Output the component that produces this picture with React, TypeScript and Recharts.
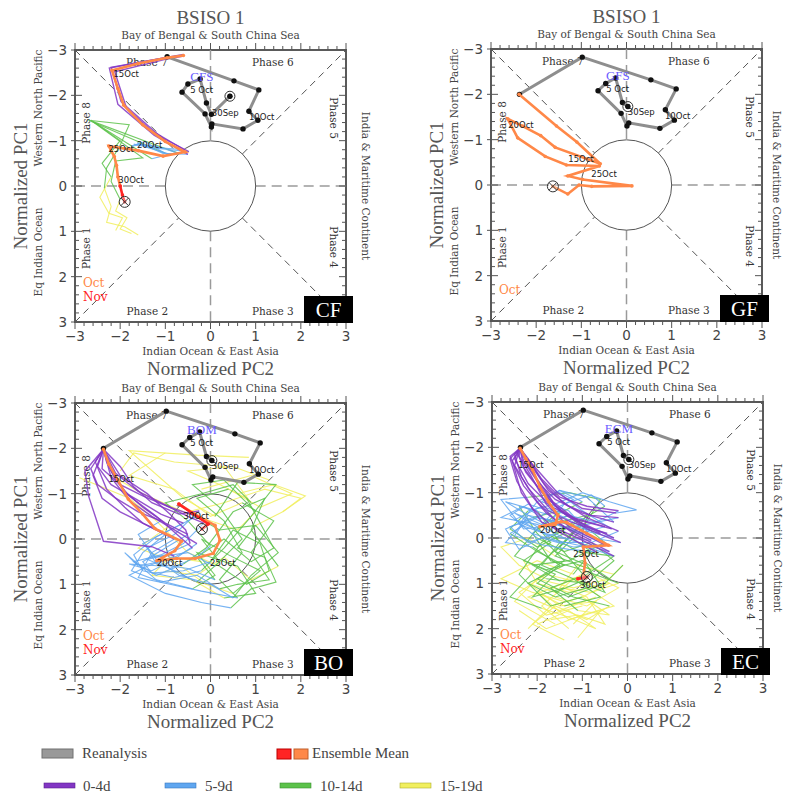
import React from 'react'
import {
  ScatterChart,
  Scatter,
  XAxis,
  YAxis,
  ReferenceLine,
  ReferenceDot,
  ReferenceArea,
} from 'recharts'

// ---- data (PC2 = x, PC1 = y), flat [x0, y0, x1, y1, ...] ----

const AXIS_TICKS = [
  -3, -2.8, -2.6, -2.4, -2.2, -2, -1.8, -1.6, -1.4, -1.2, -1, -0.8, -0.6, -0.4, -0.2, 0,
  0.2, 0.4, 0.6, 0.8, 1, 1.2, 1.4, 1.6, 1.8, 2, 2.2, 2.4, 2.6, 2.8, 3,
]

// reanalysis, 30 Sep onward
const RE_TRACK = [
  0.03, -1.73, -0.09, -1.82, -0.24, -2.36, -0.46, -2.24, -0.63, -2.08, -0.12, -1.58, 0.01, -1.3,
  0.05, -1.37, 0.74, -1.25, 1.06, -1.43, 0.86, -1.66, 1.1, -2.12, 0.54, -2.32, -0.98, -2.82,
  -2.37, -2.0,
]
const RE_TRACK_CF = [
  0.43, -1.98, 0.02, -1.58, -0.09, -1.83, -0.23, -2.36, -0.5, -2.25, -0.63, -2.07, -0.12, -1.59,
  0.02, -1.3, 0.03, -1.37, 0.72, -1.26, 1.05, -1.45, 0.85, -1.65, 1.07, -2.12, 0.52, -2.32,
  -0.96, -2.85,
]

// ensemble means
const CF_MEAN_OCT = [
  -0.6, -2.88, -0.96, -2.83, -1.6, -2.7, -2.18, -2.55, -2.05, -2.15, -1.92, -1.78, -1.5, -1.35,
  -1.0, -0.98, -0.56, -0.75, -1.05, -0.66, -1.6, -0.78, -2.25, -0.88, -2.13, -0.65, -2.08, -0.45,
  -2.05, -0.2, -2.0, 0.0,
]
const CF_MEAN_NOV = [-2.0, 0.0, -1.95, 0.2, -1.9, 0.35]
const GF_MEAN_OCT = [
  -2.38, -2.0, -1.55, -1.3, -1.1, -0.95, -0.58, -0.47, -1.58, -0.83, -1.9, -1.09, -2.3, -1.3,
  -2.63, -1.46, -2.41, -1.04, -1.8, -0.63, -1.33, -0.44, -0.6, -0.42, -1.3, -0.2, -0.97, -0.12,
  0.12, 0.02, -0.77, 0.03, -1.05, 0.0, -1.3, 0.2, -1.63, 0.03,
]
const GF_MEAN_NOV: number[] = []
const BO_MEAN_OCT = [
  -2.37, -1.98, -2.25, -1.65, -2.05, -1.3, -1.82, -0.88, -1.5, -0.55, -1.23, -0.23, -0.64, 0.05,
  -0.79, 0.26, -1.19, 0.48, -0.75, 0.43, -0.34, 0.43, 0.06, 0.32, 0.21, 0.03, 0.1, -0.3,
  -0.35, -0.55, -0.7, -0.77,
]
const BO_MEAN_NOV = [-0.7, -0.77, -0.42, -0.58, -0.05, -0.33, -0.19, -0.22]
const EC_MEAN_OCT = [
  -2.38, -1.98, -2.25, -1.75, -2.1, -1.5, -1.94, -1.13, -1.75, -0.8, -1.54, -0.5, -1.6, -0.3,
  -1.94, -0.25, -1.47, -0.36, -1.35, -0.34, -0.9, -0.1, -0.42, 0.16, -0.98, 0.2, -0.94, 0.55,
  -0.98, 0.86, -1.1, 0.9,
]
const EC_MEAN_NOV = [-1.1, 0.9, -0.95, 0.88, -0.9, 0.86]

// ensemble members: 20 daily points, lead 0-4d / 5-9d / 10-14d / 15-19d
const CF_MEMBERS = [
  [-0.6, -2.9, -0.95, -2.84, -2.24, -2.6, -2.05, -1.8, -1.25, -1.12, -0.5, -0.7, -1.05, -0.72, -1.5, -0.92, -1.75, -0.88, -1.45, -0.98, -1.0, -0.72, -2.7, -1.45, -1.8, -1.35, -2.0, -0.9, -2.3, -0.4, -2.35, 0.05, -2.2, 0.45, -2.3, 0.8, -1.9, 0.9, -1.6, 1.08],
  [-0.62, -2.86, -0.98, -2.8, -2.12, -2.52, -1.86, -1.72, -1.3, -1.22, -0.58, -0.8, -1.2, -0.85, -1.62, -0.95, -1.4, -0.85, -0.9, -0.7, -1.3, -0.6, -2.65, -1.45, -1.5, -0.62, -2.1, -0.55, -2.2, -0.1, -2.0, 0.3, -2.1, 0.55, -1.85, 0.7, -2.0, 0.95, -1.75, 1.05],
  [-0.58, -2.88, -1.0, -2.83, -2.2, -2.62, -1.98, -1.86, -1.1, -1.08, -0.48, -0.76, -0.9, -0.8, -1.35, -0.85, -1.7, -0.92, -1.2, -0.88, -0.7, -0.72, -1.2, -0.9, -2.6, -1.42, -2.0, -1.0, -2.4, -0.5, -2.2, -0.2, -2.45, 0.25, -2.25, 0.6, -1.95, 0.7, -2.1, 0.98],
]
const GF_MEMBERS: number[][] = []
const BO_MEMBERS = [
  [-2.37, -1.98, -2.2, -1.5, -1.9, -1.05, -1.5, -0.7, -1.0, -0.35, -0.5, -0.1, -1.0, 0.2, -1.5, 0.5, -1.3, 0.75, -0.6, 0.7, 0.0, 0.5, 0.5, -0.2, 1.1, 0.1, 1.3, 0.7, 0.8, 1.0, 0.2, 0.6, -0.5, 0.3, -1.2, -0.4, -1.8, -0.9, -2.9, -1.35],
  [-2.37, -1.98, -2.5, -1.6, -2.2, -1.2, -1.6, -0.85, -1.1, -0.55, -0.6, -0.35, -1.2, -0.05, -1.7, 0.35, -1.5, 0.7, -0.8, 0.85, -0.2, 0.7, 0.3, 0.2, 0.9, -0.5, 1.45, -1.2, 0.6, -1.25, 0.1, -0.5, -0.6, -0.9, -1.8, -1.95, -0.3, -1.85, 0.85, -1.8],
  [-2.37, -1.98, -2.78, -1.5, -2.7, -0.95, -2.37, 0.05, -1.3, 0.17, -0.8, 0.38, -1.4, 0.6, -1.8, 0.8, -1.0, 1.2, -0.2, 1.4, 0.45, 1.52, 0.9, 1.1, 1.45, 0.95, 1.2, 0.4, 0.6, 0.2, 1.0, -0.3, 1.6, -0.6, 2.1, -0.95, 1.4, -1.2, 0.6, -1.0],
  [-2.37, -1.98, -2.0, -1.6, -1.7, -1.15, -1.3, -0.8, -0.7, -0.55, -0.25, -0.62, -0.8, -0.1, -1.4, 0.2, -1.2, 0.55, -0.5, 0.65, 0.1, 0.9, -0.3, 0.4, 0.3, 0.0, 0.9, 0.5, 1.4, 0.2, 0.8, -0.9, 0.2, -1.2, -0.5, -1.5, 0.5, -1.6, 1.3, -1.3],
  [-2.37, -1.98, -2.3, -1.7, -2.1, -1.3, -1.8, -0.95, -1.2, -0.5, -0.4, 0.2, -0.9, 0.45, -1.6, 0.6, -1.9, 0.3, -1.2, 0.9, -0.4, 1.1, 0.1, 0.8, -0.3, 0.3, 0.6, 0.6, 1.0, 1.2, 0.3, 1.3, -0.4, 0.9, -1.3, 0.8, -0.9, 0.4, -0.2, 0.5],
  [-2.37, -1.98, -2.6, -1.4, -2.4, -0.9, -2.0, -0.6, -1.4, -0.3, -0.8, 0.0, -1.3, 0.3, -1.6, 0.85, -0.9, 1.0, -0.2, 1.15, 0.6, 1.3, 0.2, 0.9, 0.7, 0.3, 0.3, -0.4, -0.3, -0.9, 0.4, -1.1, 1.1, -0.7, 1.8, -1.0, 0.9, -1.4, -0.2, -1.1],
  [-2.37, -1.98, -2.1, -1.45, -1.6, -1.05, -1.0, -0.75, -0.5, -0.5, -0.15, -0.35, -0.6, 0.1, -1.1, 0.35, -1.7, 0.5, -1.2, 0.8, -0.6, 0.55, -0.1, 0.2, 0.5, -0.6, 1.2, -0.9, 0.9, -0.2, 1.5, 0.6, 0.9, 0.9, 0.3, 0.4, -0.3, 0.8, -1.0, 0.7],
  [-2.37, -1.98, -2.4, -1.55, -2.0, -1.2, -1.5, -0.95, -0.9, -0.7, -0.3, -0.5, -0.9, -0.2, -1.5, 0.1, -1.2, 0.4, -0.5, 0.3, 0.1, 0.6, 0.7, 0.0, 0.2, -0.7, -0.4, -1.2, 0.3, -1.3, 1.0, -0.6, 0.6, -0.2, -0.6, -0.6, -1.5, -1.0, -2.2, -1.4],
  [-2.37, -1.98, -2.55, -1.7, -2.3, -1.1, -1.9, -0.7, -1.5, -0.35, -1.0, -0.1, -1.5, 0.3, -1.75, 0.7, -1.1, 0.95, -0.3, 0.8, 0.2, 1.1, 0.6, 1.0, 1.3, 0.9, 0.9, 0.3, 1.4, -0.4, 0.7, -0.8, 0.0, -0.5, -0.8, -1.1, -1.8, -1.4, -1.0, -1.9],
  [-2.37, -1.98, -2.2, -1.35, -1.8, -0.85, -1.3, -0.5, -0.8, -0.2, -0.3, 0.1, -0.8, 0.45, -1.3, 0.7, -1.8, 0.55, -1.0, 0.6, -0.3, 0.95, 0.2, 0.5, -0.2, 0.0, 0.4, 0.35, 1.1, 0.7, 0.5, 1.2, -0.1, 1.0, -0.8, 0.5, -1.6, 0.2, -0.9, -0.3],
  [-2.37, -1.98, -2.65, -1.55, -2.5, -1.2, -2.1, -0.9, -1.6, -0.6, -1.1, -0.4, -1.6, -0.1, -1.2, 0.45, -0.7, 0.8, 0.0, 1.0, 0.5, 1.3, 0.9, 0.8, 1.5, 0.3, 1.0, -0.3, 0.2, -0.2, -0.5, -0.6, 0.3, -0.8, 1.2, -1.1, 2.0, -0.9, 1.6, -0.6],
  [-2.37, -1.98, -2.0, -1.4, -1.4, -1.0, -0.9, -0.55, -0.55, -0.2, -0.45, 0.1, -1.0, 0.35, -1.4, 0.45, -0.9, 0.65, -0.3, 0.4, 0.0, 0.15, -0.5, -0.4, -1.0, -0.8, -0.2, -1.0, 0.5, -1.2, 0.9, -0.8, 0.3, -1.6, -0.8, -1.7, -1.7, -1.9, -2.0, -1.5],
]
const EC_MEMBERS = [
  [-2.38, -1.98, -2.1, -1.55, -1.75, -1.05, -1.3, -0.7, -0.8, -0.5, -0.2, -0.45, -0.9, -0.3, -1.6, -0.2, -2.2, -0.5, -2.7, -0.8, -2.0, -0.6, -1.5, 0.1, -1.9, 0.6, -1.2, 0.9, -0.6, 1.3, -1.4, 1.5, -2.0, 1.2, -1.3, 1.8, -0.6, 1.6, -1.1, 2.2],
  [-2.38, -1.98, -2.5, -1.75, -2.2, -1.2, -1.7, -0.7, -1.1, -0.4, -0.35, -0.2, -1.0, -0.6, -1.6, -1.05, -1.2, -0.85, -2.1, -0.4, -2.6, -0.1, -2.0, 0.3, -1.4, 0.6, -2.2, 1.0, -1.6, 1.3, -0.9, 1.1, -0.3, 1.5, -1.0, 1.7, -1.8, 2.0, -2.4, 1.6],
  [-2.38, -1.98, -2.2, -1.6, -1.9, -1.1, -1.5, -0.6, -0.9, -0.2, -0.15, 0.1, -0.8, 0.0, -1.5, -0.3, -2.3, -0.2, -2.8, -0.85, -2.2, -0.9, -1.3, -1.0, -0.6, -0.85, -1.0, -0.2, -1.6, 0.4, -0.8, 0.7, -1.4, 1.0, -2.2, 1.3, -1.5, 1.6, -0.7, 1.3],
  [-2.38, -1.98, -2.6, -1.8, -2.3, -1.15, -1.8, -0.55, -1.2, -0.1, -0.4, 0.3, -1.1, 0.1, -1.8, -0.1, -2.5, -0.4, -1.9, -0.7, -1.3, -0.5, -2.0, -0.2, -2.5, 0.4, -1.8, 0.7, -1.0, 0.5, -0.4, 0.9, -1.2, 1.1, -2.0, 0.9, -2.5, 1.4, -1.6, 1.9],
  [-2.38, -1.98, -2.3, -1.7, -2.0, -1.25, -1.6, -0.85, -1.0, -0.55, -0.3, -0.35, -0.9, -0.9, -1.5, -1.05, -2.0, -0.8, -2.4, -0.3, -1.7, -0.05, -1.1, 0.3, -0.3, 0.4, -0.9, 0.8, -1.7, 1.1, -1.1, 1.6, -0.4, 1.7, -1.0, 1.3, -1.7, 1.5, -2.2, 2.0],
  [-2.38, -1.98, -2.45, -1.9, -2.25, -1.45, -1.85, -0.95, -1.35, -0.5, -0.6, -0.1, -1.3, -0.3, -2.0, -0.45, -2.6, -0.25, -2.2, 0.1, -1.6, -0.1, -1.1, -0.4, -0.5, 0.1, -1.3, 0.5, -2.1, 0.6, -1.5, 0.95, -0.8, 0.8, -0.2, 1.1, -0.9, 1.5, -1.6, 1.3],
  [-2.38, -1.98, -2.3, -1.85, -1.95, -1.45, -1.55, -1.0, -1.0, -0.65, -0.25, -0.55, 0.2, -0.62, -0.4, -0.8, -1.0, -1.0, -1.6, -0.75, -2.2, -0.6, -2.6, -0.2, -2.0, 0.2, -1.4, -0.1, -0.8, 0.3, -1.2, 0.8, -2.0, 0.5, -2.8, 0.9, -2.1, 1.2, -1.4, 1.4],
  [-2.38, -1.98, -2.55, -1.7, -2.35, -1.0, -1.9, -0.35, -1.1, 0.0, -0.3, 0.4, -0.9, 0.2, -1.6, 0.05, -2.3, -0.35, -2.7, 0.1, -2.1, 0.2, -1.5, 0.6, -2.0, 1.0, -1.3, 1.3, -0.5, 1.0, -0.1, 0.6, -0.6, 1.1, -1.2, 0.9, -1.9, 1.5, -1.3, 2.0],
  [-2.38, -1.98, -2.2, -1.75, -1.9, -1.3, -1.5, -0.9, -0.9, -0.7, -0.2, -0.6, -0.7, -0.35, -1.3, -0.5, -1.9, -0.3, -2.5, -0.55, -2.0, -0.25, -1.7, 0.1, -2.3, 0.5, -1.6, 0.8, -2.1, 1.3, -1.4, 1.1, -0.9, 1.3, -0.5, 1.9, -1.1, 1.7, -1.7, 1.8],
  [-2.38, -1.98, -2.5, -1.85, -2.35, -1.35, -2.0, -0.8, -1.5, -0.3, -0.8, 0.05, -1.4, 0.0, -2.0, -0.3, -2.8, -0.45, -2.3, -0.7, -1.8, -0.4, -1.2, -0.15, -1.6, 0.3, -0.9, 0.6, -0.5, 1.2, -1.0, 1.0, -1.8, 0.8, -2.4, 1.2, -1.8, 1.7, -1.0, 1.5],
  [-2.38, -1.98, -2.25, -1.7, -2.0, -1.3, -1.65, -0.8, -1.2, -0.45, -0.5, -0.25, -1.1, -0.1, -1.7, -0.35, -1.4, -0.75, -0.8, -0.95, -0.5, -0.7, -1.2, -0.3, -1.9, 0.1, -2.4, 0.8, -1.7, 1.5, -1.0, 1.3, -0.4, 1.0, -1.3, 1.2, -2.0, 1.0, -2.3, 0.5],
  [-2.38, -1.98, -2.4, -1.8, -2.15, -1.4, -1.8, -0.75, -1.3, -0.25, -0.5, 0.15, -1.2, 0.2, -1.9, 0.0, -2.4, 0.25, -2.7, -0.2, -2.1, -0.45, -1.5, -0.6, -1.0, -0.3, -1.5, 0.2, -0.9, 0.9, -1.6, 1.2, -2.2, 1.0, -1.5, 1.5, -0.7, 1.4, -1.2, 1.9],
  [-2.38, -1.98, -2.15, -1.65, -1.85, -1.2, -1.45, -0.8, -0.9, -0.45, -0.2, -0.15, -0.8, 0.1, -1.5, 0.1, -2.1, -0.1, -1.7, -0.5, -2.4, -0.7, -2.0, -0.1, -1.4, 0.5, -2.0, 0.9, -1.2, 1.3, -0.4, 1.5, -0.9, 1.8, -1.6, 1.5, -2.1, 1.9, -1.4, 2.25],
  [-2.38, -1.98, -2.5, -1.6, -2.2, -1.1, -1.75, -0.6, -1.25, -0.35, -0.45, -0.1, -1.0, -0.25, -1.6, -0.55, -2.2, -0.75, -2.6, -0.5, -2.0, 0.0, -1.4, 0.3, -0.8, 0.1, -0.3, 0.5, -0.9, 1.0, -1.8, 0.9, -2.4, 0.6, -2.8, 0.2, -2.2, 0.0, -1.6, 0.4],
  [-2.38, -1.98, -2.3, -1.55, -2.0, -1.15, -1.6, -0.7, -1.05, -0.35, -0.3, 0.0, -0.9, -0.15, -1.3, -0.6, -1.9, -0.8, -1.5, -1.05, -1.0, -0.8, -1.6, -0.5, -2.1, -0.1, -1.7, 0.5, -1.0, 0.7, -0.2, 1.0, -0.8, 1.2, -1.5, 1.1, -1.1, 0.6, -0.3, 0.8],
  [-2.38, -1.98, -2.6, -1.75, -2.45, -1.25, -2.1, -0.65, -1.55, -0.15, -0.7, 0.3, -1.3, 0.25, -1.9, 0.15, -2.5, -0.05, -2.2, -0.5, -1.5, -0.35, -0.9, -0.5, -1.3, 0.0, -1.8, 0.45, -2.6, 1.3, -1.9, 1.55, -1.3, 1.75, -0.7, 2.0, -1.3, 1.6, -2.0, 1.9],
]

// text annotations in data coordinates
const RE_DATES = [
  { t: '5 Oct', x: -0.45, y: -2.05 },
  { t: '30Sep', x: 0.03, y: -1.55 },
  { t: '10Oct', x: 0.85, y: -1.45 },
]
const CF_DATES = [
  { t: '15Oct', x: -2.15, y: -2.4 },
  { t: '20Oct', x: -1.63, y: -0.84 },
  { t: '25Oct', x: -2.26, y: -0.76 },
  { t: '30Oct', x: -2.04, y: -0.07 },
]
const GF_DATES = [
  { t: '20Oct', x: -2.62, y: -1.26 },
  { t: '15Oct', x: -1.29, y: -0.5 },
  { t: '25Oct', x: -0.78, y: -0.18 },
]
const BO_DATES = [
  { t: '15Oct', x: -2.26, y: -1.26 },
  { t: '30Oct', x: -0.6, y: -0.45 },
  { t: '20Oct', x: -1.19, y: 0.59 },
  { t: '25Oct', x: -0.01, y: 0.59 },
]
const EC_DATES = [
  { t: '15Oct', x: -2.42, y: -1.54 },
  { t: '20Oct', x: -1.94, y: -0.1 },
  { t: '25Oct', x: -1.2, y: 0.42 },
  { t: '30Oct', x: -1.05, y: 1.11 },
]
const PHASES = [
  { t: 'Phase 7', x: -1.41, y: -2.73, r: 0 },
  { t: 'Phase 6', x: 1.38, y: -2.73, r: 0 },
  { t: 'Phase 2', x: -1.4, y: 2.76, r: 0 },
  { t: 'Phase 3', x: 1.38, y: 2.76, r: 0 },
  { t: 'Phase 8', x: -2.76, y: -1.39, r: -90 },
  { t: 'Phase 1', x: -2.76, y: 1.37, r: -90 },
  { t: 'Phase 5', x: 2.72, y: -1.5, r: 90 },
  { t: 'Phase 4', x: 2.72, y: 1.35, r: 90 },
]

const PURPLE = '#8236c4'
const BLUE = '#5fa6f0'
const GREEN = '#5cc24a'
const YELLOW = '#f1ef5e'
const ORANGE = '#ff8848'
const RED = '#ff2424'
const GRAY = '#8e8e8e'

// lead-time groups, as index ranges into each member
const LEADS = [
  { from: 0, to: 5, color: PURPLE, w: 1.4 },
  { from: 5, to: 10, color: BLUE, w: 1.1 },
  { from: 10, to: 15, color: GREEN, w: 1.1 },
  { from: 15, to: 19, color: YELLOW, w: 1.1 },
]

// ---- layout ----
const PW = 271
const PH = 272
const ML = 75
const MT = 50
const CW = 390
const CH = 380
const AX = 20
const SERIF = '"DejaVu Serif", serif'

type Pt = { x: number; y: number }
const toPts = (a: number[]): Pt[] => {
  const out: Pt[] = []
  for (let i = 0; i < a.length; i += 2) out.push({ x: a[i], y: a[i + 1] })
  return out
}

const PANELS = [
  { tag: 'CF', model: 'CFS', left: 75, top: 50, title: true, edge: false, track: RE_TRACK_CF, oct: CF_MEAN_OCT, nov: CF_MEAN_NOV, members: CF_MEMBERS, dates: CF_DATES },
  { tag: 'GF', model: 'GFS', left: 491, top: 49, title: true, edge: true, track: RE_TRACK, oct: GF_MEAN_OCT, nov: GF_MEAN_NOV, members: GF_MEMBERS, dates: GF_DATES },
  { tag: 'BO', model: 'BOM', left: 75, top: 403, title: false, edge: false, track: RE_TRACK, oct: BO_MEAN_OCT, nov: BO_MEAN_NOV, members: BO_MEMBERS, dates: BO_DATES },
  { tag: 'EC', model: 'ECM', left: 492, top: 402, title: false, edge: true, track: RE_TRACK, oct: EC_MEAN_OCT, nov: EC_MEAN_NOV, members: EC_MEMBERS, dates: EC_DATES },
]

const isMajor = (v: number) => Math.abs(v - Math.round(v)) < 1e-6
const fmt = (v: number) => (v < 0 ? '\u2212' + Math.abs(Math.round(v)) : String(Math.round(v)))

function XTick(props: any) {
  const { x, payload } = props
  const v = payload.value
  const m = isMajor(v)
  const len = m ? 7 : 4
  const yb = MT + PH
  return (
    <g>
      <line x1={x} y1={yb} x2={x} y2={yb + len} stroke="#555" />
      <line x1={x} y1={MT} x2={x} y2={MT - len} stroke="#555" />
      {m && (
        <text x={x} y={yb + 19} textAnchor="middle" fontFamily='"DejaVu Sans", sans-serif' fontSize={13.5} fill="#444">
          {fmt(v)}
        </text>
      )}
    </g>
  )
}

function YTick(props: any) {
  const { y, payload } = props
  const v = payload.value
  const m = isMajor(v)
  const len = m ? 7 : 4
  const xr = ML + PW
  return (
    <g>
      <line x1={m ? ML - 4 : ML} y1={y} x2={ML + len} y2={y} stroke="#555" />
      <line x1={xr} y1={y} x2={xr - len} y2={y} stroke="#555" />
      {m && (
        <text x={ML - 8} y={y + 5} textAnchor="end" fontFamily='"DejaVu Sans", sans-serif' fontSize={13.5} fill="#444">
          {fmt(v)}
        </text>
      )}
    </g>
  )
}

const NoDot = () => <g />

const TrackDot = (p: any) => <circle cx={p.cx} cy={p.cy} r={2.7} fill="#111" />
const MeanDot = (color: string) => (p: any) => <circle cx={p.cx} cy={p.cy} r={1.8} fill={color} />

const StartMark = (p: any) => (
  <g>
    <circle cx={p.cx} cy={p.cy} r={5} fill="none" stroke="#333" strokeWidth={1} />
    <circle cx={p.cx} cy={p.cy} r={2.4} fill="#111" />
  </g>
)
const EndMark = (p: any) => (
  <g stroke="#333" strokeWidth={1}>
    <circle cx={p.cx} cy={p.cy} r={5.5} fill="#fff" fillOpacity={0.3} />
    <line x1={p.cx - 3.9} y1={p.cy - 3.9} x2={p.cx + 3.9} y2={p.cy + 3.9} />
    <line x1={p.cx - 3.9} y1={p.cy + 3.9} x2={p.cx + 3.9} y2={p.cy - 3.9} />
  </g>
)

const PhaseText = (p: any) => (
  <text
    x={p.cx}
    y={p.cy}
    dy="0.36em"
    textAnchor="middle"
    transform={p.payload.r ? `rotate(${p.payload.r} ${p.cx} ${p.cy})` : undefined}
    fontFamily={SERIF}
    fontSize={10.5}
    fill="#333"
  >
    {p.payload.t}
  </text>
)
const DateText = (p: any) => (
  <text x={p.cx} y={p.cy} fontFamily='"DejaVu Sans", sans-serif' fontSize={8.5} fill="#1a1a1a">
    {p.payload.t}
  </text>
)
const ModelText = (p: any) => (
  <text x={p.cx} y={p.cy} dy="0.36em" textAnchor="middle" fontFamily='"Liberation Serif", serif' fontSize={13} fill="#6a5cff">
    {p.payload.t}
  </text>
)

const DIAG = 0.707

function Panel({ cfg }: { cfg: (typeof PANELS)[number] }) {
  const track = toPts(cfg.track)
  const oct = toPts(cfg.oct)
  const nov = toPts(cfg.nov)
  const members = cfg.members.map(toPts)
  const last = nov.length ? nov[nov.length - 1] : oct[oct.length - 1]
  const hasNov = nov.length > 0
  const cx = ML + PW / 2
  const cy = MT + PH / 2
  const rx = ML + PW + (cfg.edge ? 11 : 16)
  const dash = { stroke: '#9a9a9a', strokeWidth: 1.5, strokeDasharray: '10 6' }
  const diag = { stroke: '#555', strokeWidth: 1, strokeDasharray: '7 5' }
  return (
    <div style={{ position: 'absolute', left: cfg.left - ML, top: cfg.top - MT, width: CW, height: CH }}>
      <ScatterChart width={CW} height={CH} margin={{ top: MT, left: ML - AX, right: CW - ML - PW, bottom: CH - MT - PH - AX }}>
        <XAxis type="number" dataKey="x" domain={[-3, 3]} allowDataOverflow ticks={AXIS_TICKS} interval={0} tick={XTick} tickLine={false} axisLine={false} height={AX} tickSize={0} tickMargin={0} />
        <YAxis type="number" dataKey="y" domain={[-3, 3]} reversed allowDataOverflow ticks={AXIS_TICKS} interval={0} tick={YTick} tickLine={false} axisLine={false} width={AX} tickSize={0} tickMargin={0} />
        <ReferenceArea x1={-3} x2={3} y1={-3} y2={3} fill="none" fillOpacity={0} stroke="#5a5a5a" strokeWidth={2} ifOverflow="visible" />
        <ReferenceLine segment={[{ x: -3, y: 0 }, { x: -1, y: 0 }]} {...dash} />
        <ReferenceLine segment={[{ x: 1, y: 0 }, { x: 3, y: 0 }]} {...dash} />
        <ReferenceLine segment={[{ x: 0, y: -3 }, { x: 0, y: -1 }]} {...dash} />
        <ReferenceLine segment={[{ x: 0, y: 1 }, { x: 0, y: 3 }]} {...dash} />
        <ReferenceLine segment={[{ x: -3, y: -3 }, { x: -DIAG, y: -DIAG }]} {...diag} />
        <ReferenceLine segment={[{ x: DIAG, y: DIAG }, { x: 3, y: 3 }]} {...diag} />
        <ReferenceLine segment={[{ x: -3, y: 3 }, { x: -DIAG, y: DIAG }]} {...diag} />
        <ReferenceLine segment={[{ x: DIAG, y: -DIAG }, { x: 3, y: -3 }]} {...diag} />
        <ReferenceDot x={0} y={0} r={PW / 6} fill="none" stroke="#555" strokeWidth={1} />

        <Scatter data={PHASES} shape={PhaseText} isAnimationActive={false} />

        {[...LEADS].reverse().map((lead) =>
          members.map((m, i) => (
            <Scatter
              key={lead.color + i}
              data={m.slice(lead.from, lead.to + 1)}
              line={{ stroke: lead.color, strokeWidth: lead.w, strokeOpacity: 0.85 }}
              shape={NoDot}
              isAnimationActive={false}
            />
          )),
        )}

        <Scatter data={track} line={{ stroke: GRAY, strokeWidth: 3 }} shape={TrackDot} isAnimationActive={false} />
        <Scatter data={[track[0]]} shape={StartMark} isAnimationActive={false} />

        <Scatter data={oct} line={{ stroke: ORANGE, strokeWidth: 2.6 }} shape={MeanDot(ORANGE)} isAnimationActive={false} />
        {hasNov && <Scatter data={nov} line={{ stroke: RED, strokeWidth: 2.6 }} shape={MeanDot(RED)} isAnimationActive={false} />}
        <Scatter data={[last]} shape={EndMark} isAnimationActive={false} />

        <Scatter data={RE_DATES} shape={DateText} isAnimationActive={false} />
        <Scatter data={cfg.dates} shape={DateText} isAnimationActive={false} />
        <Scatter data={[{ t: cfg.model, x: -0.19, y: -2.43 }]} shape={ModelText} isAnimationActive={false} />
      </ScatterChart>

      <svg width={CW} height={CH} style={{ position: 'absolute', left: 0, top: 0, pointerEvents: 'none' }}>
        {cfg.title && (
          <text x={cx} y={MT - 26} textAnchor="middle" fontFamily='"Liberation Serif", serif' fontSize={19} fill="#555">
            BSISO 1
          </text>
        )}
        <text x={cx} y={MT - 11} textAnchor="middle" fontFamily={SERIF} fontSize={10.5} fill="#444">
          Bay of Bengal &amp; South China Sea
        </text>
        <text x={cx} y={MT + PH + 33} textAnchor="middle" fontFamily={SERIF} fontSize={10.5} fill="#444">
          Indian Ocean &amp; East Asia
        </text>
        <text x={cx} y={MT + PH + 53} textAnchor="middle" fontFamily='"Liberation Serif", serif' fontSize={19} fill="#555">
          Normalized PC2
        </text>
        <text x={ML - 48} y={cy} transform={`rotate(-90 ${ML - 48} ${cy})`} textAnchor="middle" fontFamily='"Liberation Serif", serif' fontSize={19} fill="#555">
          Normalized PC1
        </text>
        <text x={ML - 33} y={MT + 58} transform={`rotate(-90 ${ML - 33} ${MT + 58})`} textAnchor="middle" fontFamily={SERIF} fontSize={10.5} fill="#444">
          Western North Pacific
        </text>
        <text x={ML - 33} y={MT + 202} transform={`rotate(-90 ${ML - 33} ${MT + 202})`} textAnchor="middle" fontFamily={SERIF} fontSize={10.5} fill="#444">
          Eq Indian Ocean
        </text>
        <text x={rx} y={cy} transform={`rotate(90 ${rx} ${cy})`} textAnchor="middle" fontFamily={SERIF} fontSize={10.5} fill="#444">
          India &amp; Maritime Continent
        </text>
        {hasNov ? (
          <>
            <text x={ML + 8} y={MT + 237} fontFamily={SERIF} fontSize={12} fill={ORANGE}>Oct</text>
            <text x={ML + 8} y={MT + 251} fontFamily={SERIF} fontSize={12} fill={RED}>Nov</text>
          </>
        ) : (
          <text x={ML + 8} y={MT + 245} fontFamily={SERIF} fontSize={12} fill={ORANGE}>Oct</text>
        )}
        <rect x={ML + 229} y={MT + 246} width={49} height={27} fill="#000" />
        <text x={ML + 253.5} y={MT + 267} textAnchor="middle" fontFamily='"Liberation Serif", serif' fontSize={21} fill="#fff">
          {cfg.tag}
        </text>
      </svg>
    </div>
  )
}

const LEGEND_FONT = '"Liberation Serif", serif'

export default function App() {
  return (
    <div style={{ position: 'absolute', left: 0, top: 0, width: 785, height: 794, overflow: 'hidden', background: '#fff' }}>
      {PANELS.map((p) => (
        <Panel key={p.tag} cfg={p} />
      ))}
      <svg width={785} height={59} style={{ position: 'absolute', left: 0, top: 735 }}>
        <rect x={42} y={14} width={31} height={9} fill="#999" stroke="#707070" />
        <text x={82} y={23} fontFamily={LEGEND_FONT} fontSize={15} fill="#444">Reanalysis</text>
        <rect x={277} y={14} width={14} height={10} fill={RED} stroke="#b00" />
        <rect x={294} y={14} width={14} height={10} fill={ORANGE} stroke="#c0602c" />
        <text x={312} y={23} fontFamily={LEGEND_FONT} fontSize={15} fill="#444">Ensemble Mean</text>

        <rect x={44} y={48} width={31} height={5} fill={PURPLE} stroke="#5a2090" strokeWidth={0.6} />
        <text x={83} y={56} fontFamily={LEGEND_FONT} fontSize={15} fill="#444">0-4d</text>
        <rect x={165} y={48} width={31} height={5} fill={BLUE} stroke="#3a78c0" strokeWidth={0.6} />
        <text x={205} y={56} fontFamily={LEGEND_FONT} fontSize={15} fill="#444">5-9d</text>
        <rect x={280} y={48} width={31} height={5} fill={GREEN} stroke="#3a9030" strokeWidth={0.6} />
        <text x={320} y={56} fontFamily={LEGEND_FONT} fontSize={15} fill="#444">10-14d</text>
        <rect x={400} y={48} width={31} height={5} fill={YELLOW} stroke="#b0ae30" strokeWidth={0.6} />
        <text x={440} y={56} fontFamily={LEGEND_FONT} fontSize={15} fill="#444">15-19d</text>
      </svg>
    </div>
  )
}
